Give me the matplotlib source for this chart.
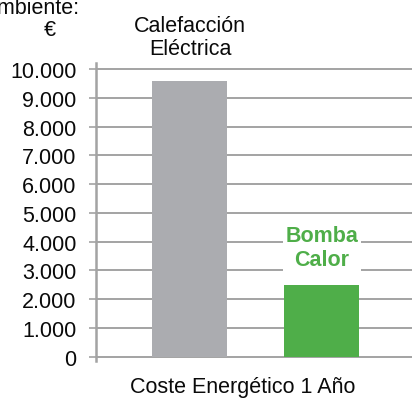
import matplotlib.pyplot as plt

plt.rcParams['font.family'] = ['Liberation Sans', 'DejaVu Sans']

# costes anuales (euros)
categorias = ['Calefacción\nEléctrica', 'Bomba\nCalor']
costes = [9580, 2500]
colores = ['#ABACB0', '#4FAE49']
ticks = [0, 1000, 2000, 3000, 4000, 5000, 6000, 7000, 8000, 9000, 10000]
tick_labels = ['0', '1.000', '2.000', '3.000', '4.000', '5.000',
               '6.000', '7.000', '8.000', '9.000', '10.000']

W, H = 414, 402
fig = plt.figure(figsize=(W / 100, H / 100), dpi=100)
ax = fig.add_axes([96 / W, (H - 361.7) / H, (412 - 96) / W, (361.7 - 64) / H])

grid_color = '#A3A3A3'
for t in ticks:
    ax.axhline(t, color=grid_color, lw=1.4, zorder=0)

x = [0, 1]
ax.bar(x, costes, width=0.568, color=colores, zorder=2)

ax.set_xlim(-0.712, 1.682)
ax.set_ylim(-140, 10210)
ax.set_yticks(ticks)
ax.set_yticklabels(tick_labels)
ax.set_xticks([])
ax.tick_params(axis='y', length=5, width=1.2, color=grid_color, pad=9,
               labelsize=15.5, labelcolor='#0A0A0A')
for s in ['top', 'right', 'bottom']:
    ax.spines[s].set_visible(False)
ax.spines['left'].set_color(grid_color)
ax.spines['left'].set_linewidth(1.8)

# etiqueta de la calefacción eléctrica, encima del área del gráfico
fig.text(190 / W, 1 - 38 / H, categorias[0], ha='center', va='center',
         fontsize=15.5, color='#0A0A0A', linespacing=1.15)

# etiqueta de la bomba de calor, sobre fondo blanco
ax.text(x[1], costes[1] + 1300, categorias[1], ha='center', va='center',
        fontsize=15.5, fontweight='bold', color=colores[1], linespacing=1.15,
        zorder=3, bbox=dict(boxstyle='square,pad=0.1', fc='white', ec='none'))

fig.text(50 / W, 1 - 30 / H, '€', ha='center', va='center', fontsize=15.5,
         color='#0A0A0A')
fig.text(79 / W, 1 - 14 / H, 'ambiente:', ha='right', va='baseline',
         fontsize=15.5, color='#0A0A0A')

fig.text(243 / W, 1 - 388 / H, 'Coste Energético 1 Año', ha='center',
         va='center', fontsize=15.5, color='#0A0A0A',
         family=['Liberation Sans Narrow', 'Liberation Sans', 'DejaVu Sans'])

fig.savefig('out.png', dpi=100)
